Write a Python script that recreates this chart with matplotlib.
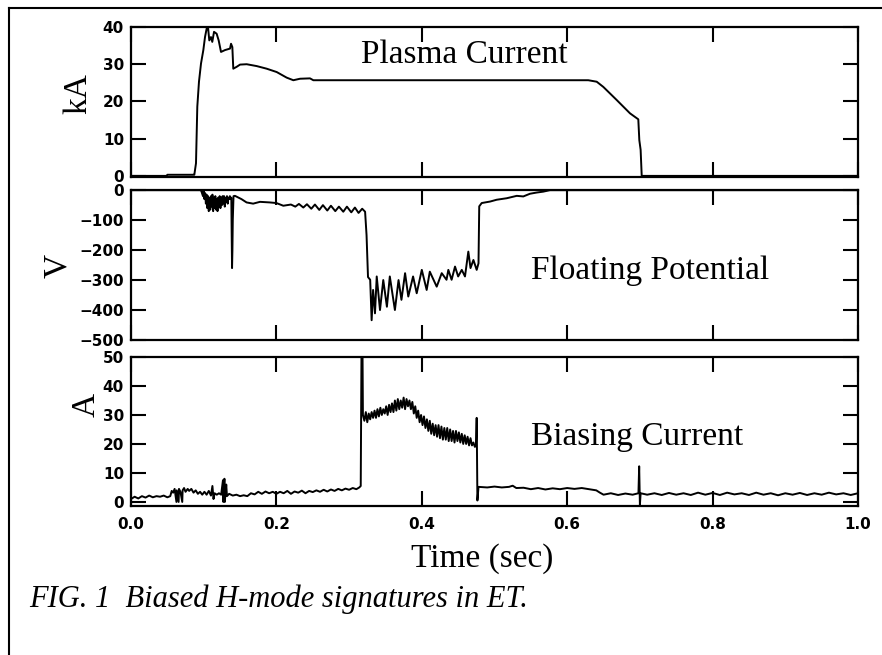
import matplotlib.pyplot as plt
import numpy as np
from matplotlib.lines import Line2D

plt.rcParams['font.family'] = 'Liberation Serif'

# plasma current (kA) vs time (s)
ip_t = [0.0, 0.049, 0.050, 0.086, 0.0871, 0.0894, 0.0912, 0.0935, 0.0963, 0.0995,
        0.1018, 0.1041, 0.1059, 0.1077, 0.110, 0.1118, 0.1142, 0.1178, 0.1206,
        0.1238, 0.1293, 0.1362, 0.1376, 0.1394, 0.1407, 0.1453, 0.150, 0.1591,
        0.1729, 0.1866, 0.2004, 0.2141, 0.2233, 0.2325, 0.2462, 0.2508, 0.629,
        0.6406, 0.6497, 0.668, 0.6864, 0.6978, 0.6992, 0.701, 0.7025, 1.0]
ip_ka = [0.0, 0.0, 0.3, 0.3, 0.3, 3.4, 18.6, 25.3, 30.2, 33.8,
         37.3, 39.6, 40.0, 36.4, 37.3, 36.0, 38.7, 38.2, 36.4,
         33.3, 33.8, 34.2, 35.5, 34.6, 28.8, 29.3, 29.9, 30.0,
         29.5, 28.8, 27.9, 26.4, 25.7, 26.1, 26.2, 25.7, 25.7,
         25.3, 23.9, 20.4, 16.8, 15.2, 9.6, 7.0, 0.0, 0.0]

# floating potential (V)
vf_t = [0.0, 0.096, 0.097, 0.099, 0.100, 0.101, 0.102, 0.103, 0.104, 0.105, 0.106,
        0.107, 0.108, 0.109, 0.110, 0.111, 0.112, 0.113, 0.114, 0.115, 0.116,
        0.117, 0.118, 0.119, 0.120, 0.121, 0.122, 0.123, 0.124, 0.125, 0.126,
        0.127, 0.128, 0.129, 0.130, 0.131, 0.132, 0.133, 0.134, 0.135, 0.136,
        0.137, 0.138, 0.1385, 0.139, 0.1395, 0.140, 0.1405, 0.141, 0.143,
        0.152, 0.159, 0.168, 0.1774, 0.191, 0.200, 0.2095, 0.220, 0.226, 0.231,
        0.237, 0.242, 0.248, 0.253, 0.259, 0.264, 0.270, 0.275, 0.281, 0.286,
        0.292, 0.297, 0.303, 0.308, 0.313, 0.318, 0.322, 0.324, 0.326, 0.329,
        0.331, 0.333, 0.3356, 0.338, 0.3425, 0.347, 0.352, 0.356, 0.363, 0.368,
        0.372, 0.377, 0.3814, 0.388, 0.393, 0.400, 0.4067, 0.411, 0.4205,
        0.4274, 0.434, 0.4365, 0.441, 0.4457, 0.450, 0.455, 0.4594, 0.464,
        0.467, 0.471, 0.4755, 0.478, 0.479, 0.4824, 0.494, 0.503, 0.5168,
        0.5306, 0.5396, 0.5488, 0.558, 0.567, 0.5763, 1.0]
vf_v = [0, 0, -5, -20, -2, -30, -10, -45, -15, -60, -20,
        -70, -25, -65, -20, -55, -15, -70, -25, -60, -20,
        -65, -30, -70, -25, -55, -20, -60, -25, -50, -20,
        -45, -20, -55, -25, -40, -20, -45, -25, -30, -20,
        -30, -25, -150, -260, -200, -100, -60, -20, -19,
        -30, -41, -45, -39, -41, -43, -52, -48, -55, -46,
        -58, -47, -62, -48, -66, -50, -68, -52, -70, -55,
        -72, -55, -74, -58, -76, -62, -72, -150, -290, -299,
        -434, -333, -411, -288, -400, -300, -389, -288, -400, -300,
        -366, -277, -355, -288, -344, -266, -333, -272, -322,
        -277, -299, -266, -299, -255, -288, -266, -288, -205,
        -260, -233, -266, -244, -54, -43, -38, -32, -27,
        -19, -21, -12, -8, -5, 0, 0]

# biasing current (A)
ib_t = [0.0, 0.005, 0.01, 0.015, 0.02, 0.025, 0.03, 0.035, 0.04, 0.045, 0.05,
        0.054, 0.056, 0.058, 0.060, 0.0625, 0.063, 0.0655, 0.066, 0.068, 0.0705,
        0.071, 0.073, 0.075, 0.078, 0.080, 0.083, 0.086, 0.089, 0.092, 0.095,
        0.098, 0.101, 0.104, 0.107, 0.110, 0.112, 0.1135, 0.115, 0.118, 0.121,
        0.124, 0.1265, 0.127, 0.1285, 0.129, 0.131, 0.132, 0.135, 0.14, 0.145,
        0.15, 0.155, 0.16, 0.165, 0.17, 0.175, 0.18, 0.185, 0.19, 0.195, 0.2,
        0.205, 0.21, 0.215, 0.22, 0.225, 0.23, 0.235, 0.24, 0.245, 0.25, 0.255,
        0.26, 0.265, 0.27, 0.275, 0.28, 0.285, 0.29, 0.295, 0.30, 0.305, 0.31,
        0.314, 0.316, 0.317, 0.3185, 0.319, 0.321, 0.323, 0.325, 0.327, 0.329,
        0.331, 0.333, 0.335, 0.337, 0.339, 0.341, 0.343, 0.345, 0.347, 0.349,
        0.351, 0.353, 0.355, 0.357, 0.359, 0.361, 0.363, 0.365, 0.367, 0.369,
        0.371, 0.373, 0.375, 0.377, 0.379, 0.381, 0.383, 0.385, 0.387, 0.389,
        0.391, 0.393, 0.395, 0.397, 0.399, 0.401, 0.403, 0.405, 0.407, 0.409,
        0.411, 0.413, 0.415, 0.417, 0.419, 0.421, 0.423, 0.425, 0.427, 0.429,
        0.431, 0.433, 0.435, 0.437, 0.439, 0.441, 0.443, 0.445, 0.447, 0.449,
        0.451, 0.453, 0.455, 0.457, 0.459, 0.461, 0.463, 0.465, 0.467, 0.469,
        0.471, 0.473, 0.4745, 0.4755, 0.4765, 0.478, 0.49, 0.50, 0.51, 0.52,
        0.525, 0.53, 0.54, 0.55, 0.56, 0.57, 0.58, 0.59, 0.60, 0.61, 0.62, 0.63,
        0.64, 0.645, 0.65, 0.66, 0.67, 0.68, 0.69, 0.698, 0.699, 0.700, 0.701,
        0.71, 0.72, 0.73, 0.74, 0.75, 0.76, 0.77, 0.78, 0.79, 0.80, 0.81, 0.82,
        0.83, 0.84, 0.85, 0.86, 0.87, 0.88, 0.89, 0.90, 0.91, 0.92, 0.93, 0.94,
        0.95, 0.96, 0.97, 0.98, 0.99, 1.0]
ib_a = [1.0, 1.8, 1.2, 2.0, 1.5, 2.2, 1.6, 2.0, 1.8, 2.2, 1.6,
        2.0, 3.8, 3.2, 4.5, 0.0, 4.0, 0.0, 4.5, 3.5, 0.0,
        4.0, 4.8, 3.5, 4.5, 3.8, 4.5, 3.2, 4.0, 2.8, 3.5,
        2.5, 3.5, 2.5, 3.8, 2.2, 5.5, 1.0, 3.0, 2.5, 3.0,
        2.5, 7.5, 0.0, 8.0, 0.0, 6.0, 2.0, 2.8, 2.2, 2.5,
        2.0, 2.3, 2.0, 3.0, 2.6, 3.5, 2.8, 3.6, 3.0, 3.5, 2.8,
        3.5, 3.0, 3.8, 2.8, 3.6, 3.2, 3.9, 3.0, 3.8, 3.4, 4.0,
        3.5, 4.2, 3.6, 4.3, 3.8, 4.5, 4.0, 4.6, 4.2, 4.8, 4.4,
        5.0, 5.5, 50, 50, 30, 28, 31, 27.5, 30.5, 28.5,
        31, 29, 31.5, 29, 32, 29.5, 32.5, 30, 32, 30.5,
        33, 30, 33.5, 31, 34, 31, 35, 31.5, 35.5, 32,
        35, 32.5, 36, 32, 35.5, 33, 35, 32, 34.5, 30.5,
        33, 29, 31.5, 27.5, 30, 26.5, 29.5, 25.5, 28.5, 24.5,
        28, 23.5, 27, 23, 26.5, 22.5, 26.5, 22, 26, 21.5,
        25.5, 21.5, 25.5, 21, 25, 21, 24.5, 20.5, 24.5, 21,
        24, 20.5, 23.5, 20, 23, 20, 22.5, 19.5, 22, 19.5,
        20.5, 19.0, 19.5, 29, 0.5, 5.2, 5.0, 5.3, 5.0, 5.2,
        5.6, 4.8, 4.9, 4.4, 4.8, 4.3, 4.7, 4.4, 4.8, 4.5, 4.8, 4.4,
        4.0, 3.2, 2.5, 3.0, 2.4, 2.9, 2.5, 3.0, 12.3, -1.0, 3.0,
        2.5, 3.0, 2.4, 3.1, 2.5, 3.0, 2.4, 3.2, 2.5, 3.1, 2.4, 3.2,
        2.6, 3.0, 2.4, 3.2, 2.5, 3.0, 2.3, 3.0, 2.5, 3.1, 2.4, 3.0,
        2.5, 3.2, 2.6, 3.0, 2.4, 3.0]

x_ticks = [0.0, 0.2, 0.4, 0.6, 0.8, 1.0]
x_labels = ['0.0', '0.2', '0.4', '0.6', '0.8', '1.0']

W, H = 882, 655
fig = plt.figure(figsize=(W / 100, H / 100), dpi=100)

def add_panel(top, bottom):
    ax = fig.add_axes([131 / W, 1 - bottom / H, 727 / W, (bottom - top) / H])
    for s in ax.spines.values():
        s.set_linewidth(1.6)
    ax.set_xlim(0, 1)
    ax.tick_params(direction='in', length=11, width=1.5, top=True, right=True,
                   pad=5)
    return ax

tick_font = dict(fontfamily='DejaVu Sans', fontweight='bold', fontsize=11)

ax1 = add_panel(27, 177)
ax1.plot(ip_t, ip_ka, color='black', lw=1.4)
ax1.set_ylim(-0.3, 40)
ax1.set_yticks([0, 10, 20, 30, 40], ['0', '10', '20', '30', '40'], **tick_font)
ax1.set_xticks(x_ticks)
ax1.tick_params(labelbottom=False)
ax1.text(0.458, 0.76, 'Plasma Current', transform=ax1.transAxes,
         ha='center', va='baseline', fontsize=24)

ax2 = add_panel(190, 340)
ax2.plot(vf_t, vf_v, color='black', lw=1.4)
ax2.set_ylim(-500, 0.5)
ax2.set_yticks([0, -100, -200, -300, -400, -500],
               ['0', '\u2212100', '\u2212200', '\u2212300', '\u2212400', '\u2212500'],
               **tick_font)
ax2.set_xticks(x_ticks)
ax2.tick_params(labelbottom=False)
ax2.text(0.714, 0.407, 'Floating Potential', transform=ax2.transAxes,
         ha='center', va='baseline', fontsize=24)

ax3 = add_panel(357, 506)
ax3.plot(ib_t, ib_a, color='black', lw=1.4)
ax3.set_ylim(-1.4, 50)
ax3.set_yticks([0, 10, 20, 30, 40, 50], ['0', '10', '20', '30', '40', '50'],
               **tick_font)
ax3.set_xticks(x_ticks, x_labels, **tick_font)
ax3.tick_params(axis='x', pad=8)
ax3.text(0.696, 0.409, 'Biasing Current', transform=ax3.transAxes,
         ha='center', va='baseline', fontsize=24)

# axis names and caption
fig.text(78 / W, 1 - 94 / H, 'kA', rotation=90, ha='center', va='center', fontsize=24)
fig.text(58 / W, 1 - 266 / H, 'V', rotation=90, ha='center', va='center', fontsize=24)
fig.text(86 / W, 1 - 405 / H, 'A', rotation=90, ha='center', va='center', fontsize=24)
fig.text(482 / W, 1 - 567 / H, 'Time (sec)', ha='center', va='baseline', fontsize=24)
fig.text(29 / W, 1 - 607 / H, 'FIG. 1  Biased H-mode signatures in ET.',
         style='italic', va='baseline', fontsize=22)

# outer frame (top and left edges visible)
fig.add_artist(Line2D([9 / W, 1], [1 - 8 / H, 1 - 8 / H], color='black', lw=1.5))
fig.add_artist(Line2D([9 / W, 9 / W], [0, 1 - 8 / H], color='black', lw=1.5))

fig.savefig('out.png', dpi=100)
